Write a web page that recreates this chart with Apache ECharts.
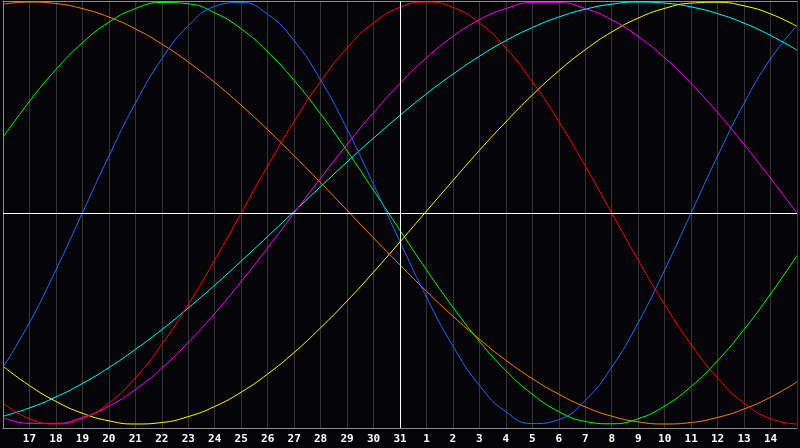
<!DOCTYPE html>
<html>
<head>
<meta charset="utf-8">
<script src="https://cdn.jsdelivr.net/npm/echarts@6/dist/echarts.min.js"></script>
<style>
html,body{margin:0;padding:0;background:#050508;}
#c{width:800px;height:448px;}
</style>
</head>
<body>
<div id="c"></div>
<script>
const days = ['16','17','18','19','20','21','22','23','24','25','26','27','28','29','30','31',
              '1','2','3','4','5','6','7','8','9','10','11','12','13','14','15'];
const today = '31';

const physical = [-0.731,-0.520,-0.270,0,0.270,0.520,0.731,0.888,0.979,0.998,0.942,0.817,0.631,0.398,0.136,-0.136,-0.398,-0.631,-0.817,-0.942,-0.998,-0.979,-0.888,-0.731,-0.520,-0.270,0,0.270,0.520,0.731,0.888];
const emotional = [-0.901,-0.975,-1,-0.975,-0.901,-0.782,-0.623,-0.434,-0.223,0,0.223,0.434,0.623,0.782,0.901,0.975,1,0.975,0.901,0.782,0.623,0.434,0.223,0,-0.223,-0.434,-0.623,-0.782,-0.901,-0.975,-1];
const intellectual = [0.359,0.529,0.680,0.807,0.904,0.969,0.998,0.992,0.949,0.873,0.764,0.629,0.470,0.295,0.108,-0.082,-0.269,-0.446,-0.608,-0.747,-0.859,-0.941,-0.988,-0.999,-0.975,-0.915,-0.822,-0.700,-0.552,-0.384,-0.202];
const intuitive = [-0.969,-0.997,-0.997,-0.969,-0.916,-0.837,-0.736,-0.614,-0.476,-0.325,-0.165,0,0.165,0.325,0.476,0.614,0.736,0.837,0.916,0.969,0.997,0.997,0.969,0.916,0.837,0.736,0.614,0.476,0.325,0.165,0];
const aesthetic = [-0.726,-0.818,-0.893,-0.949,-0.985,-1.000,-0.993,-0.965,-0.917,-0.849,-0.763,-0.661,-0.544,-0.417,-0.280,-0.137,0.009,0.154,0.297,0.432,0.559,0.674,0.774,0.858,0.924,0.970,0.995,0.999,0.982,0.944,0.885];
const awareness = [0.990,1.000,0.993,0.969,0.929,0.873,0.801,0.716,0.619,0.511,0.395,0.271,0.144,0.013,-0.118,-0.246,-0.371,-0.489,-0.598,-0.698,-0.785,-0.859,-0.919,-0.963,-0.990,-1.000,-0.993,-0.969,-0.929,-0.873,-0.801];
const spiritual = [-0.963,-0.924,-0.872,-0.808,-0.733,-0.647,-0.553,-0.450,-0.342,-0.228,-0.111,0.007,0.125,0.242,0.355,0.463,0.565,0.658,0.743,0.817,0.879,0.929,0.966,0.990,1.000,0.995,0.977,0.945,0.900,0.842,0.772];

const seriesDefs = [
  {name:'Spiritual', data:spiritual, color:'#00ffff'},
  {name:'Aesthetic', data:aesthetic, color:'#ffff00'},
  {name:'Awareness', data:awareness, color:'#ff8000'},
  {name:'Intuitive', data:intuitive, color:'#ff00ff'},
  {name:'Intellectual', data:intellectual, color:'#00ff00'},
  {name:'Emotional', data:emotional, color:'#ff0000'},
  {name:'Physical', data:physical, color:'#1c6cff'}
];

const chart = echarts.init(document.getElementById('c'), null, {renderer:'canvas'});
const series = seriesDefs.map(s => ({
  name: s.name, type:'line', data: s.data, smooth: 0.5, symbol:'none',
  lineStyle:{color:s.color, width:1}, itemStyle:{color:s.color}, z: 3
}));
series.push({
  name:'ref', type:'line', data:[], silent:true, z:2,
  markLine:{silent:true, symbol:'none', animation:false,
    label:{show:false},
    lineStyle:{color:'#ffffff', width:1, type:'solid'},
    data:[{yAxis:0},{xAxis:today}]}
});

chart.setOption({
  backgroundColor:'#050508',
  animation:false,
  grid:{left:0, right:0, top:1, bottom:20, containLabel:false},
  xAxis:[{
    type:'category', data:days, boundaryGap:false,
    axisLine:{onZero:false, lineStyle:{color:'#8c8c8c', width:1}},
    axisTick:{show:false},
    axisLabel:{color:'#ffffff', fontFamily:'DejaVu Sans Mono', fontWeight:'bold', fontSize:11, margin:6, interval:0,
      formatter:(v,i)=> (i===0 || i===days.length-1) ? '' : v},
    splitLine:{show:true, lineStyle:{color:'#353535', width:1}}
  },{
    type:'category', data:days, boundaryGap:false, position:'top',
    axisLine:{onZero:false, lineStyle:{color:'#8c8c8c', width:1}},
    axisTick:{show:false}, axisLabel:{show:false}, splitLine:{show:false}
  }],
  yAxis:{
    type:'value', min:-1.019, max:1.005,
    axisLine:{show:true, onZero:false, lineStyle:{color:'#8c8c8c', width:1}},
    axisTick:{show:false}, axisLabel:{show:false}, splitLine:{show:false}
  },
  series: series
});
</script>
</body>
</html>
